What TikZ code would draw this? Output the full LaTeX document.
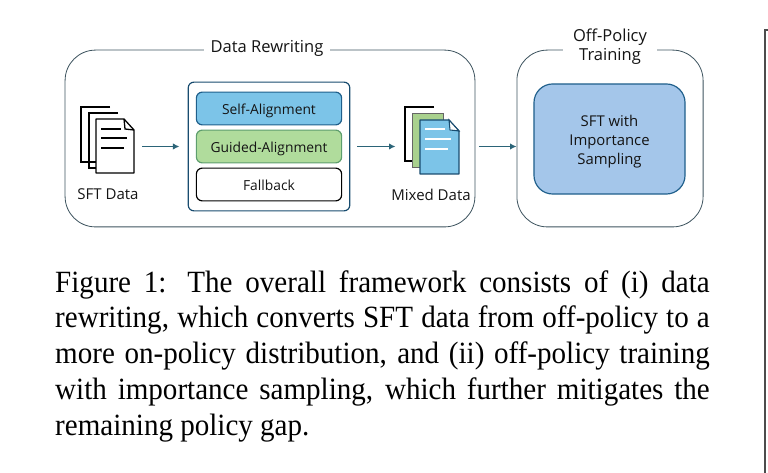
\documentclass[tikz,border=0pt]{standalone}
\usepackage{fontspec}
\setmainfont[FakeStretch=0.94]{Liberation Serif}
\newfontfamily\labelfont{Open Sans}
\usetikzlibrary{arrows.meta}

\definecolor{linegray}{HTML}{3F5560}
\definecolor{arrowteal}{HTML}{2B6478}
\definecolor{selfblue}{HTML}{7CC4E8}
\definecolor{guidegreen}{HTML}{B0DC9C}
\definecolor{guideedge}{HTML}{5E9E6E}
\definecolor{trainblue}{HTML}{A4C6EA}
\definecolor{trainedge}{HTML}{1F5F8B}
\definecolor{backgreen}{HTML}{A9D18E}

\tikzset{
  groupbox/.style={draw=linegray, line width=0.7pt, rounded corners=26pt, inner sep=0pt},
  grouptitle/.style={fill=white, font=\labelfont\fontsize{14.1}{16.2}\selectfont, align=center, inner sep=0pt, text=black!92},
  methodbox/.style={line width=1pt, rounded corners=5pt, inner sep=0pt, minimum width=124pt, minimum height=28pt, text height=10.8pt, text depth=1.2pt, font=\labelfont\fontsize{11.8}{14}\selectfont, text=black!92},
  flowarrow/.style={draw=arrowteal, line width=1.2pt, -{Latex[length=5.5pt,width=5.5pt]}},
  dochold/.style={inner sep=0pt, minimum width=46pt, minimum height=46pt},
  doclabel/.style={font=\labelfont\fontsize{12.8}{14}\selectfont, text=black!92, inner sep=0pt}
}

\begin{document}
\begin{tikzpicture}[x=0.854pt, y=-0.854pt]

  % Page frame, one pixel unit per image pixel
  \useasboundingbox (0,0) rectangle (768,473);

  % Data rewriting group
  \node[groupbox, minimum width=350pt, minimum height=151pt] (rewriting) at (270,138.5) {};
  \node[grouptitle, minimum width=108pt, minimum height=14pt] (rewritingtitle) at (267,48.5) {Data Rewriting};

  % Off-policy training group
  \node[groupbox, minimum width=159pt, minimum height=151pt] (training) at (610,138.5) {};
  \node[grouptitle, minimum width=80pt, minimum height=34pt] (trainingtitle) at (610,47) {Off-Policy\\Training};

  % Rewriting methods
  \node[draw=trainedge!80!black, line width=1pt, rounded corners=5pt, minimum width=138pt, minimum height=110pt, inner sep=0pt] (methods) at (269,146.5) {};
  \node[methodbox, draw=trainedge, fill=selfblue] (selfalign) at (269,108.5) {Self-Alignment};
  \node[methodbox, draw=guideedge, fill=guidegreen] (guidealign) at (269,146.5) {Guided-Alignment};
  \node[methodbox, draw=black, fill=white] (fallback) at (269,184.5) {Fallback};

  % Training box
  \node[draw=trainedge, fill=trainblue, line width=1pt, rounded corners=16pt, minimum width=129pt, minimum height=94pt, inner sep=0pt, align=center, font=\labelfont\fontsize{12.7}{16.2}\selectfont, text=black!92] (sampling) at (609.5,139) {\rule{0pt}{13.5pt}SFT with\\Importance\\Sampling};

  % SFT data icon
  \node[dochold] (sftdoc) at (107.5,140) {};
  \draw[line width=1.1pt] (110,107) -- (81,107) -- (81,162) -- (96,162);
  \draw[line width=1.1pt] (118,113) -- (89,113) -- (89,168) -- (96,168);
  \draw[line width=1.1pt, fill=white, line join=round] (96,119) -- (124,119) -- (134,130) -- (134,173) -- (96,173) -- cycle;
  \draw[line width=1.1pt] (124,119) -- (125,129) -- (134,130);
  \foreach \ya/\xa in {129/121, 138/127, 148/124}
    \draw[line width=1.1pt] (101,\ya) -- (\xa,\ya);
  \node[doclabel] (sftlabel) at (108,194.5) {SFT Data};

  % Mixed data icon
  \node[dochold] (mixdoc) at (432,140) {};
  \draw[line width=1.1pt] (434,107) -- (405,107) -- (405,161) -- (412,161);
  \draw[draw=black!60, fill=backgreen, line width=0.8pt] (412,113) -- (443,113) -- (443,167) -- (412,167) -- cycle;
  \draw[draw=trainedge!80!black, fill=selfblue, line width=1.1pt, line join=round] (420,120) -- (449,120) -- (459,131) -- (459,174) -- (420,174) -- cycle;
  \draw[draw=trainedge!80!black, fill=white, line width=0.9pt] (449,120) -- (450,130) -- (459,131) -- cycle;
  \foreach \ya/\xa in {129/445, 139/451, 149/448}
    \draw[white, line width=1.1pt] (425,\ya) -- (\xa,\ya);
  \node[doclabel] (mixlabel) at (431,194.5) {Mixed Data};

  % Arrows between stages
  \draw[flowarrow, shorten <=6.5pt, shorten >=7pt] (sftdoc.east |- methods.west) -- (methods.west);
  \draw[flowarrow, shorten <=6pt, shorten >=8pt] (methods.east) -- (mixdoc.west |- methods.east);
  \draw[flowarrow, shorten <=3pt] (rewriting.east |- methods.east) -- (training.west |- methods.east);

  % Caption
  \node[anchor=north west, inner sep=0pt, text width=559pt, align=justify, font=\fontsize{26.4}{30.6}\selectfont, text=black] (caption) at (55,270) {\hyphenpenalty=10000 Figure 1: The overall framework consists of (i) data\linebreak rewriting, which converts SFT data from off-policy to a\linebreak more on-policy distribution, and (ii) off-policy training\linebreak with importance sampling, which further mitigates the\linebreak remaining policy gap.};

  % Page edge at the right
  \coordinate (edgetop) at (768,30);
  \coordinate (edgecorner) at (765,30);
  \coordinate (edgebottom) at (765,473);
  \draw[black!70, line width=1pt] (edgetop) -- (edgecorner) -- (edgebottom);

\end{tikzpicture}
\end{document}
